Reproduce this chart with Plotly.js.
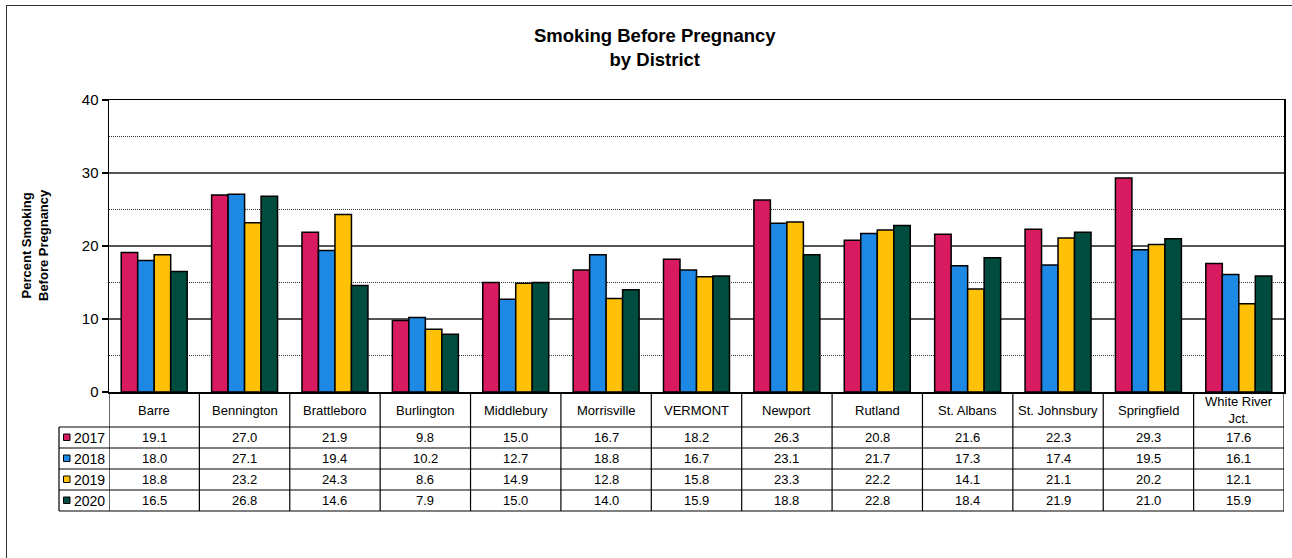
<!DOCTYPE html>
<html>
<head>
<meta charset="utf-8">
<script src="https://cdn.plot.ly/plotly-3.0.1.min.js"></script>
<style>
html,body{margin:0;padding:0;background:#fff;}
#chart{width:1292px;height:558px;}
</style>
</head>
<body>
<div id="chart"></div>
<script>
const districts = ["Barre","Bennington","Brattleboro","Burlington","Middlebury","Morrisville","VERMONT","Newport","Rutland","St. Albans","St. Johnsbury","Springfield","White River<br>Jct."];
const years = ["2017","2018","2019","2020"];
const v2017 = [19.1,27.0,21.9,9.8,15.0,16.7,18.2,26.3,20.8,21.6,22.3,29.3,17.6];
const v2018 = [18.0,27.1,19.4,10.2,12.7,18.8,16.7,23.1,21.7,17.3,17.4,19.5,16.1];
const v2019 = [18.8,23.2,24.3,8.6,14.9,12.8,15.8,23.3,22.2,14.1,21.1,20.2,12.1];
const v2020 = [16.5,26.8,14.6,7.9,15.0,14.0,15.9,18.8,22.8,18.4,21.9,21.0,15.9];
const series = [v2017, v2018, v2019, v2020];
const colors = ["#D81B60","#1E88E5","#FFC107","#004D40"];

const W = 1292, H = 558;
const L = 109, R = 1284, T = 100, B = 392;
const pw = R - L, ph = B - T;
const px = x => (x - L) / pw;      // pixel -> paper x
const py = y => (B - y) / ph;      // pixel -> paper y

const xs = districts.map((d, i) => i);

const traces = series.map((vals, k) => ({
  type: 'bar',
  name: years[k],
  x: xs,
  y: vals,
  marker: {color: colors[k], line: {color: '#000', width: 1.5}},
  hoverinfo: 'x+y'
}));

const shapes = [];
const annotations = [];
const FONT = 'Liberation Sans, Arial, sans-serif';

// outer frame (top and left edges visible; right/bottom lie beyond the canvas)
shapes.push({type:'line', xref:'paper', yref:'paper', x0:px(6), x1:px(1300), y0:py(5.5), y1:py(5.5), line:{color:'#333', width:1}});
shapes.push({type:'line', xref:'paper', yref:'paper', x0:px(6.5), x1:px(6.5), y0:py(5), y1:py(570), line:{color:'#333', width:1}});

// table rows
const rowY = [427, 448, 469, 490, 511];
const tableBottom = rowY[rowY.length-1];
rowY.forEach(y => {
  shapes.push({type:'line', xref:'paper', yref:'paper', x0:px(59), x1:1, y0:py(y), y1:py(y), line:{color:'#000', width:1.2}});
});
for (let i = 0; i <= districts.length; i++) {
  shapes.push({type:'line', xref:'x', yref:'paper', x0:i-0.5, x1:i-0.5, y0:0, y1:py(tableBottom), line:{color:'#000', width:1.2}});
}
shapes.push({type:'line', xref:'paper', yref:'paper', x0:px(59), x1:px(59), y0:py(rowY[0]), y1:py(tableBottom), line:{color:'#000', width:1.2}});

// header row: district names
districts.forEach((d, i) => {
  annotations.push({xref:'x', yref:'paper', x:i, y:py(410), text:d, showarrow:false,
    font:{family:FONT, size:13, color:'#000'}, xanchor:'center', yanchor:'middle'});
});

// data rows
series.forEach((vals, k) => {
  const yc = (rowY[k] + rowY[k+1]) / 2;
  vals.forEach((v, i) => {
    annotations.push({xref:'x', yref:'paper', x:i, y:py(yc), text:v.toFixed(1), showarrow:false,
      font:{family:FONT, size:13, color:'#000'}, xanchor:'center', yanchor:'middle'});
  });
  shapes.push({type:'rect', xref:'paper', yref:'paper', x0:px(63.5), x1:px(70), y0:py(yc-3.5), y1:py(yc+3), fillcolor:colors[k], line:{color:'#000', width:1}});
  annotations.push({xref:'paper', yref:'paper', x:px(72), y:py(yc), text:years[k], showarrow:false,
    font:{family:FONT, size:14, color:'#000'}, xanchor:'left', yanchor:'middle'});
});

// title
annotations.push({xref:'paper', yref:'paper', x:px(655), y:py(48), text:'<b>Smoking Before Pregnancy</b><br><b>by District</b>',
  showarrow:false, font:{family:FONT, size:18.5, color:'#000'}, xanchor:'center', yanchor:'middle'});

// y axis title
annotations.push({xref:'paper', yref:'paper', x:px(35), y:py(245), text:'<b>Percent Smoking</b><br><b>Before Pregnancy</b>',
  showarrow:false, textangle:-90, font:{family:FONT, size:13, color:'#000'}, xanchor:'center', yanchor:'middle'});

const layout = {
  width: W, height: H,
  margin: {l: L, r: W - R, t: T, b: H - B, pad: 0},
  paper_bgcolor: '#fff', plot_bgcolor: '#fff',
  showlegend: false,
  barmode: 'group',
  bargap: 0.27,
  bargroupgap: 0,
  xaxis: {
    type: 'linear', range: [-0.5, districts.length - 0.5],
    showticklabels: false, ticks: '', showgrid: false, zeroline: false,
    showline: true, linecolor: '#000', linewidth: 1.5, mirror: true, fixedrange: true
  },
  yaxis: {
    range: [0, 40], dtick: 10, tick0: 0,
    ticks: 'outside', ticklen: 6, tickcolor: '#000', tickwidth: 1.2,
    tickfont: {family: FONT, size: 15, color: '#000'},
    showline: true, linecolor: '#000', linewidth: 1.5, mirror: true,
    showgrid: true, gridcolor: '#555', gridwidth: 1.2,
    zeroline: false,
    minor: {dtick: 5, tick0: 0, showgrid: true, gridcolor: '#333', gridwidth: 1, griddash: '1px,1px', ticks: ''},
    fixedrange: true
  },
  shapes: shapes,
  annotations: annotations,
  font: {family: FONT}
};

Plotly.newPlot('chart', traces, layout, {displayModeBar: false, staticPlot: true});
</script>
</body>
</html>
